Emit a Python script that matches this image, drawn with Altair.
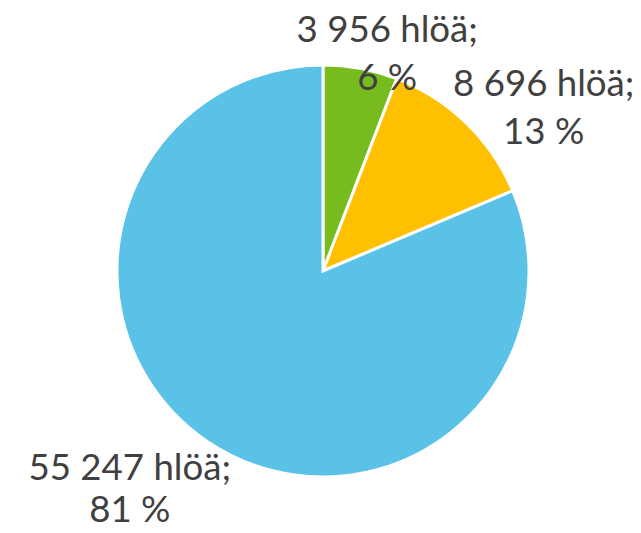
import math
import altair as alt
import pandas as pd

# Data
counts = [3956, 8696, 55247]
count_labels = ["3 956 hlöä;", "8 696 hlöä;", "55 247 hlöä;"]
pct_labels = ["6 %", "13 %", "81 %"]
order = [0, 1, 2]
colors = ["#77BC1F", "#FFC000", "#5BC2E7"]

df = pd.DataFrame({"idx": order, "count": counts, "lab1": count_labels, "lab2": pct_labels})
total = sum(counts)
theta_scale = alt.Scale(domain=[0, total], range=[0, 2 * math.pi])

base = (
    alt.Chart(df)
    .transform_window(cum="sum(count)", sort=[alt.SortField("idx")], frame=[None, 0])
    .transform_calculate(
        start="datum.cum - datum.count",
        mid="datum.cum - datum.count / 2",
        label="datum.lab1 + '\\n' + datum.lab2",
    )
)

arc = base.mark_arc(radius=208, stroke="white", strokeWidth=3).encode(
    theta=alt.Theta("start:Q", scale=theta_scale),
    theta2="cum:Q",
    color=alt.Color("idx:N", scale=alt.Scale(domain=order, range=colors), legend=None),
)

# label placement (style): radius, dx, dy, lineHeight
placements = [(230, 23, -16, 48), (230, 63, -22, 48), (230, -68, 8, 43)]
layers = [arc]
for i, (r, dx, dy, lh) in zip(order, placements):
    layers.append(
        base.transform_filter(f"datum.idx == {i}")
        .mark_text(
            radius=r, dx=dx, dy=dy, lineBreak="\n", lineHeight=lh,
            font="Lato", fontSize=37, color="#404040",
            align="center", baseline="middle",
        )
        .encode(theta=alt.Theta("mid:Q", scale=theta_scale), text="label:N")
    )

chart = (
    alt.layer(*layers)
    .properties(
        width=600, height=480,
        padding={"left": 18, "top": 23, "right": 13, "bottom": 18},
        autosize=alt.AutoSizeParams(type="none"),
    )
    .configure_view(stroke=None)
)

chart.save("out.html", embed_options={"renderer": "svg", "actions": False})
